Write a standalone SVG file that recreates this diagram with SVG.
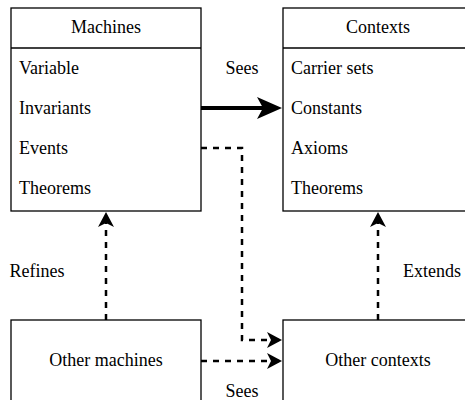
<svg xmlns="http://www.w3.org/2000/svg" width="465" height="400" viewBox="0 0 465 400">
<style>
.box{fill:#fff;stroke:#000;stroke-width:1.3}
.t{font-family:'Liberation Serif','DejaVu Serif',serif;font-size:18px;fill:#000}
.c{text-anchor:middle}
.dash{fill:none;stroke:#000;stroke-width:2.5;stroke-dasharray:6 6}
.thick{fill:none;stroke:#000;stroke-width:4}
</style>
<defs>
<marker id="ah" markerUnits="userSpaceOnUse" markerWidth="16" markerHeight="18" refX="15" refY="8" orient="auto" viewBox="0 0 16 16">
<path d="M0,0 L15,8 L0,16 L4,8 Z" fill="#000"/>
</marker>
</defs>
<g id="machines">
<rect class="box" x="11" y="8" width="190" height="203"/>
<line x1="11" y1="48" x2="201" y2="48" stroke="#000" stroke-width="1.3"/>
<text class="t c" x="106" y="33">Machines</text>
<text class="t" x="19" y="74">Variable</text>
<text class="t" x="19" y="114">Invariants</text>
<text class="t" x="19" y="154">Events</text>
<text class="t" x="19" y="194">Theorems</text>
</g>
<g id="contexts">
<rect class="box" x="283" y="8" width="190" height="203"/>
<line x1="283" y1="48" x2="473" y2="48" stroke="#000" stroke-width="1.3"/>
<text class="t c" x="378" y="33">Contexts</text>
<text class="t" x="291" y="74">Carrier sets</text>
<text class="t" x="291" y="114">Constants</text>
<text class="t" x="291" y="154">Axioms</text>
<text class="t" x="291" y="194">Theorems</text>
</g>
<g id="other-machines">
<rect class="box" x="11" y="320" width="190" height="90"/>
<text class="t c" x="106" y="366">Other machines</text>
</g>
<g id="other-contexts">
<rect class="box" x="283" y="320" width="190" height="90"/>
<text class="t c" x="378" y="366">Other contexts</text>
</g>
<g id="connectors">
<path class="thick" d="M201,108 L270,108"/>
<path d="M257,97 L282,108 L257,119 L263,108 Z" fill="#000"/>
<path class="dash" d="M201,148 H242 V340 H282" marker-end="url(#ah)"/>
<path class="dash" d="M201,361 H282" marker-end="url(#ah)"/>
<path class="dash" d="M106,320 V212" marker-end="url(#ah)"/>
<path class="dash" d="M378,320 V212" marker-end="url(#ah)"/>
<text class="t c" x="242" y="74">Sees</text>
<text class="t c" x="242" y="397">Sees</text>
<text class="t c" x="37" y="277">Refines</text>
<text class="t c" x="432" y="277">Extends</text>
</g>
</svg>
